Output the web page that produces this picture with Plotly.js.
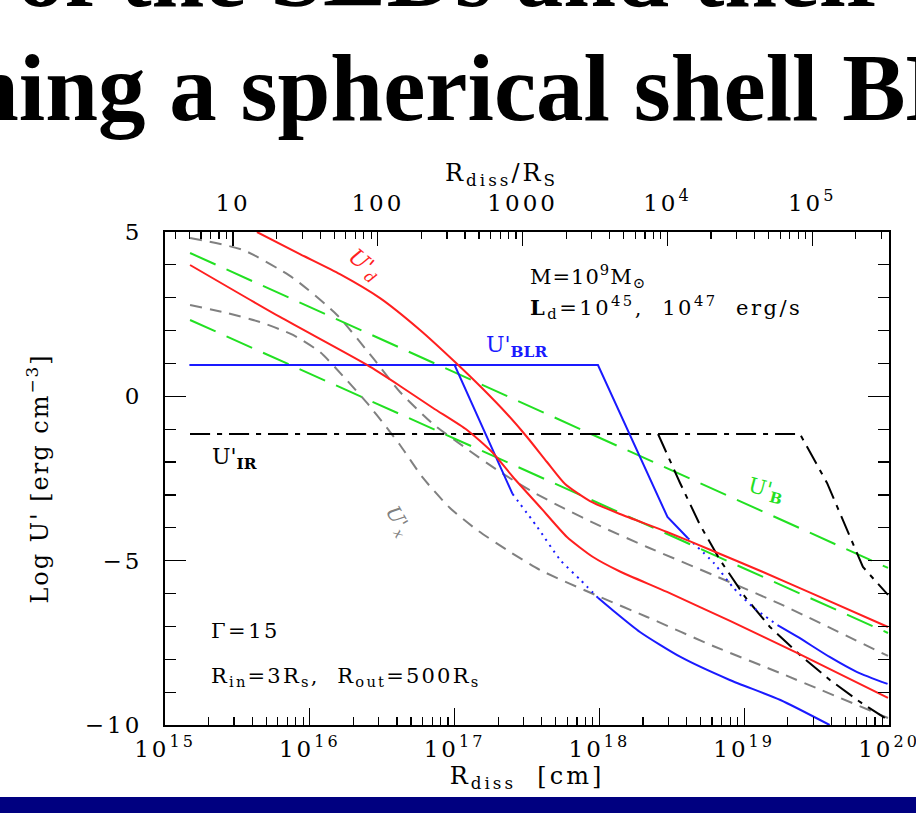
<!DOCTYPE html>
<html>
<head>
<meta charset="utf-8">
<script src="https://cdn.plot.ly/plotly-3.0.1.min.js"></script>
<style>
  html, body { margin: 0; padding: 0; background: #ffffff; }
  #plot { width: 916px; height: 818px; }
</style>
</head>
<body>
<div id="plot"></div>
<script>
// Comoving energy densities vs. dissipation distance.
// Abscissae are log10(R_diss / cm), ordinates log10(U' / erg cm^-3).

// U'_BLR, L_d = 1e47 erg/s (solid, dotted, solid)
const blrHiR1   = [15.17, 17.99, 18.47, 18.61];
const blrHiU1   = [0.95, 0.95, -3.67, -4.31];
const blrHiRdot = [18.61, 18.79, 18.92, 19.06, 19.23];
const blrHiUdot = [-4.31, -5.07, -5.80, -6.41, -6.96];
const blrHiR2   = [19.23, 19.37, 19.59, 19.78, 19.99];
const blrHiU2   = [-6.96, -7.32, -7.93, -8.39, -8.75];

// U'_BLR, L_d = 1e45 erg/s
const blrLoR1   = [15.17, 17.00, 17.40];
const blrLoU1   = [0.95, 0.95, -2.97];
const blrLoRdot = [17.40, 17.57, 17.73, 17.87, 17.99];
const blrLoUdot = [-2.97, -3.97, -4.98, -5.59, -6.13];
const blrLoR2   = [17.99, 18.09, 18.28, 18.56, 18.90, 19.25, 19.59];
const blrLoU2   = [-6.13, -6.50, -7.17, -7.93, -8.63, -9.24, -10.0];

// U'_d (accretion disk)
const diskHiR = [15.635, 15.932, 16.208, 16.485, 16.761, 17.003, 17.196, 17.362, 17.50, 17.638, 17.763, 17.935, 18.142, 18.467, 18.785, 19.13, 19.475, 19.993];
const diskHiU = [5.0, 4.33, 3.72, 2.99, 2.02, 1.045, 0.223, -0.537, -1.237, -1.998, -2.667, -3.185, -3.580, -4.127, -4.705, -5.344, -6.013, -7.017];
const diskLoR = [15.173, 15.794, 16.395, 16.623, 16.851, 17.086, 17.265, 17.403, 17.59, 17.776, 17.956, 18.135, 18.467, 18.902, 19.365, 19.993];
const diskLoU = [3.996, 2.414, 0.954, 0.315, -0.354, -1.024, -1.723, -2.454, -3.366, -4.279, -4.888, -5.314, -5.952, -6.834, -7.808, -9.177];

// U'_X (X-ray corona)
const corHiR = [15.173, 15.539, 15.884, 16.188, 16.436, 16.623, 16.851, 17.086, 17.314, 17.541, 17.749, 18.004, 18.329, 18.785, 19.247, 19.993];
const corHiU = [4.817, 4.452, 3.601, 2.475, 1.167, 0.132, -0.841, -1.602, -2.302, -2.910, -3.397, -3.944, -4.583, -5.435, -6.317, -7.899];
const corLoR = [15.173, 15.428, 15.656, 15.884, 16.070, 16.229, 16.395, 16.533, 16.623, 16.782, 16.968, 17.155, 17.362, 17.590, 18.004, 18.329, 18.785, 19.247, 19.993];
const corLoU = [2.779, 2.536, 2.262, 1.867, 1.349, 0.619, -0.202, -0.963, -1.480, -2.484, -3.397, -4.066, -4.675, -5.283, -6.104, -6.713, -7.595, -8.417, -9.786];

// U'_B (magnetic field)
const magHiR = [15.173, 19.993];
const magHiU = [4.361, -5.222];
const magLoR = [15.173, 19.993];
const magLoU = [2.323, -7.200];

// U'_IR (dusty torus)
const irLoR = [15.173, 18.405, 18.557, 18.695, 18.833, 19.006, 19.178, 19.385, 19.592, 19.800, 19.993];
const irLoU = [-1.145, -1.145, -2.636, -3.914, -4.979, -6.104, -7.017, -7.869, -8.630, -9.299, -9.846];
const irHiR = [15.173, 19.385, 19.572, 19.710, 19.820, 19.993];
const irHiU = [-1.145, -1.145, -2.636, -4.066, -5.192, -6.043];

// Axis ticks
const bottomTickVals = [1e15, 1e16, 1e17, 1e18, 1e19, 1e20];
const bottomTickText = ['10<sup>15</sup>', '10<sup>16</sup>', '10<sup>17</sup>', '10<sup>18</sup>', '10<sup>19</sup>', '10<sup>20</sup>'];
const topTickVals = [10, 100, 1000, 1e4, 1e5];
const topTickText = ['10', '100', '1000', '10<sup>4</sup>', '10<sup>5</sup>'];
const leftTickVals = [-10, -5, 0, 5];
const leftTickText = ['\u221210', '\u22125', '0', '5'];

const RS = 2.95e14; // Schwarzschild radius for M = 1e9 Msun, cm

const RED = '#ff1f1f', BLUE = '#1a1aff', GREEN = '#22e022', GRAY = '#808080', BLACK = '#000000';

function curve(logR, logU, color, dash, shape) {
  return {
    x: logR.map(v => Math.pow(10, v)),
    y: logU,
    type: 'scatter',
    mode: 'lines',
    line: { color: color, width: 2, dash: dash, shape: shape || 'linear', smoothing: 0.6 },
    hoverinfo: 'skip',
    showlegend: false
  };
}

const DASH_GRAY = '12px,8px';
const DASH_GREEN = '28px,12px';
const DASH_IR = '20px,7px,5px,7px';
const DOTS = '2px,5px';

const traces = [
  curve(corHiR, corHiU, GRAY, DASH_GRAY, 'spline'),
  curve(corLoR, corLoU, GRAY, DASH_GRAY, 'spline'),
  curve(magHiR, magHiU, GREEN, DASH_GREEN),
  curve(magLoR, magLoU, GREEN, DASH_GREEN),
  curve(irLoR, irLoU, BLACK, DASH_IR),
  curve(irHiR, irHiU, BLACK, DASH_IR),
  curve(blrHiR1, blrHiU1, BLUE, 'solid'),
  curve(blrHiRdot, blrHiUdot, BLUE, DOTS, 'spline'),
  curve(blrHiR2, blrHiU2, BLUE, 'solid', 'spline'),
  curve(blrLoR1, blrLoU1, BLUE, 'solid'),
  curve(blrLoRdot, blrLoUdot, BLUE, DOTS, 'spline'),
  curve(blrLoR2, blrLoU2, BLUE, 'solid', 'spline'),
  curve(diskHiR, diskHiU, RED, 'solid', 'spline'),
  curve(diskLoR, diskLoU, RED, 'solid', 'spline'),
  // the B-field line again in units of R_S, so that the upper R_diss/R_S axis is laid out
  {
    x: magHiR.map(v => Math.pow(10, v) / RS), y: magHiU,
    xaxis: 'x2', yaxis: 'y', type: 'scatter', mode: 'lines',
    line: { width: 0, color: 'rgba(0,0,0,0)' }, opacity: 0,
    hoverinfo: 'skip', showlegend: false
  }
];

// plot frame in pixels: left 165, right 889, top 232, bottom 725
const L = 165, R = 889, T = 232, B = 725;
const px = v => (v - L) / (R - L);
const py = v => (B - v) / (B - T);

const SERIF = 'DejaVu Serif';
const spaced = (s, ls) => '<span style="letter-spacing:' + ls + 'px">' + s + '</span>';

function label(text, x, y, opts) {
  return Object.assign({
    text: text, xref: 'paper', yref: 'paper', x: px(x), y: py(y),
    xanchor: 'center', yanchor: 'middle', showarrow: false,
    font: { family: SERIF, size: 21, color: '#000' }
  }, opts || {});
}

const annotations = [
  // slide heading (partly outside the frame)
  label('of the SEDs and their', 452, 0, {
    yanchor: 'top', y: py(-81),
    font: { family: 'Liberation Serif', size: 95, color: '#000', weight: 'bold' }
  }),
  label('ning a spherical shell BLR', 0, 0, {
    xanchor: 'left', x: px(-36), yanchor: 'top', y: py(33),
    font: { family: 'Liberation Serif', size: 95, color: '#000', weight: 'bold' }
  }),
  // top axis title
  label(spaced('R<sub>diss</sub>/R<sub>S</sub>', 3), 501, 174, { font: { family: SERIF, size: 24, color: '#000' } }),
  // curve labels
  label("<i>U'<sub>d</sub></i>", 364, 265, { textangle: 40, font: { family: SERIF, size: 22, color: RED } }),
  label("<i>U'<sub>x</sub></i>", 398, 521, { textangle: 60, font: { family: SERIF, size: 20, color: GRAY } }),
  label("U'<sub><b>B</b></sub>", 766, 490, { textangle: 15, font: { family: SERIF, size: 21, color: GREEN } }),
  label("U'<sub><b>BLR</b></sub>", 516, 346, { font: { family: SERIF, size: 22, color: BLUE } }),
  label("U'<sub><b>IR</b></sub>", 234, 458, { font: { family: SERIF, size: 22, color: BLACK } }),
  // parameters
  label(spaced('M=10<sup>9</sup>M<sub>\u2299</sub>', 1), 528, 276, { xanchor: 'left' }),
  label(spaced('<b>L</b><sub>d</sub>=10<sup>45</sup>,  10<sup>47</sup>  erg/s', 2.5), 528, 307, { xanchor: 'left' }),
  label(spaced('\u0393=15', 2.5), 209, 631, { xanchor: 'left' }),
  label(spaced('R<sub>in</sub>=3R<sub>s</sub>,  R<sub>out</sub>=500R<sub>s</sub>', 2.2), 209, 677, { xanchor: 'left' })
];

const tickFont = { family: SERIF, size: 23, color: '#000' };
const wide = arr => arr.map(s => spaced(s, 3));

const layout = {
  width: 916, height: 818,
  margin: { l: L, r: 916 - R, t: T, b: 818 - B, pad: 0 },
  paper_bgcolor: '#ffffff', plot_bgcolor: '#ffffff',
  showlegend: false,
  font: { family: SERIF, color: '#000' },
  xaxis: {
    type: 'log', range: [15, 20],
    tickmode: 'array', tickvals: bottomTickVals, ticktext: wide(bottomTickText),
    ticks: 'inside', ticklen: 17, tickwidth: 1.3, tickcolor: '#000',
    minor: { ticks: 'inside', ticklen: 8, tickwidth: 1.2, tickcolor: '#000', dtick: 'D1', showgrid: false },
    showline: true, linecolor: '#000', linewidth: 2, showgrid: false, zeroline: false,
    tickfont: tickFont, ticklabelstandoff: 2, ticklabeloverflow: 'allow',
    title: { text: spaced('R<sub>diss</sub>\u00a0\u00a0[cm]', 3), font: { family: SERIF, size: 24, color: '#000' }, standoff: 4 }
  },
  xaxis2: {
    type: 'log', overlaying: 'x', side: 'top', anchor: 'y',
    range: [Math.log10(1e15 / RS), Math.log10(1e20 / RS)],
    tickmode: 'array', tickvals: topTickVals, ticktext: wide(topTickText),
    ticks: 'inside', ticklen: 14, tickwidth: 1.3, tickcolor: '#000',
    minor: { ticks: 'inside', ticklen: 7, tickwidth: 1.2, tickcolor: '#000', dtick: 'D1', showgrid: false },
    showline: true, linecolor: '#000', linewidth: 2, showgrid: false, zeroline: false,
    tickfont: tickFont, ticklabelstandoff: 10, ticklabeloverflow: 'allow'
  },
  yaxis: {
    range: [-10, 5],
    tickmode: 'array', tickvals: leftTickVals, ticktext: wide(leftTickText),
    ticks: 'inside', ticklen: 21, tickwidth: 1.3, tickcolor: '#000',
    minor: { ticks: 'inside', ticklen: 11, tickwidth: 1.2, tickcolor: '#000', tickmode: 'linear', tick0: 0, dtick: 1, showgrid: false },
    showline: true, linecolor: '#000', linewidth: 2, mirror: 'ticks',
    showgrid: false, zeroline: false,
    tickfont: tickFont, ticklabelstandoff: 16, ticklabeloverflow: 'allow',
    title: { text: spaced("Log U' [erg cm<sup>\u22123</sup>]", 2), font: { family: SERIF, size: 24, color: '#000' }, standoff: 29 }
  },
  annotations: annotations,
  shapes: [
    { type: 'rect', xref: 'paper', yref: 'paper', x0: px(-20), x1: px(940), y0: py(813), y1: py(797),
      fillcolor: '#000080', line: { width: 0 }, layer: 'above' }
  ]
};

Plotly.newPlot('plot', traces, layout, { displayModeBar: false, staticPlot: true });
</script>
</body>
</html>
